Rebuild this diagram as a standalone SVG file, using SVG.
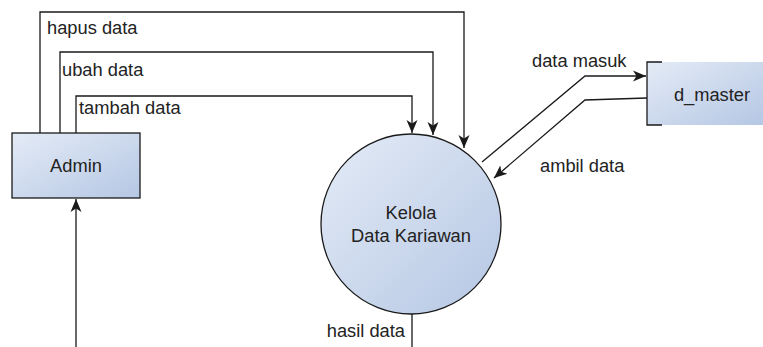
<svg xmlns="http://www.w3.org/2000/svg" width="763" height="347" viewBox="0 0 763 347">
<style>
  .lbl{font-family:"Liberation Sans",Arial,sans-serif;font-size:18.3px;fill:#222}
  .ctr{text-anchor:middle}
  .edge{fill:none;stroke:#1a1a1a;stroke-width:1.3}
  .node{stroke:#1a1a1a;stroke-width:1.3}
</style>
<defs>
  <linearGradient id="g" x1="0" y1="0" x2="1" y2="1">
    <stop offset="0" stop-color="#e4ebf6"/>
    <stop offset="1" stop-color="#b5c7e4"/>
  </linearGradient>
  <marker id="arr" markerUnits="userSpaceOnUse" markerWidth="14" markerHeight="14" viewBox="0 0 14 14" refX="13" refY="7" orient="auto">
    <path d="M0,1.5 L13,7 L0,12.5 L3.5,7 Z" fill="#1a1a1a"/>
  </marker>
</defs>
<rect width="763" height="347" fill="#fff"/>
<g id="admin">
  <rect class="node" x="12" y="133" width="128" height="65" fill="url(#g)"/>
  <text class="lbl ctr" x="76" y="172">Admin</text>
</g>
<g id="kelola">
  <circle class="node" cx="411" cy="224" r="90" fill="url(#g)"/>
  <text class="lbl ctr" x="411" y="219">Kelola</text>
  <text class="lbl ctr" x="411" y="242">Data Kariawan</text>
</g>
<g id="d_master">
  <rect x="647" y="62" width="116" height="63" fill="url(#g)"/>
  <path class="edge" d="M662,62 H647 V125 H662"/>
  <text class="lbl ctr" x="712" y="101">d_master</text>
</g>
<g id="connectors">
  <path class="edge" d="M40,133 V12 H464 V148" marker-end="url(#arr)"/>
  <path class="edge" d="M60,133 V52 H433 V135" marker-end="url(#arr)"/>
  <path class="edge" d="M76,133 V96 H412 V133" marker-end="url(#arr)"/>
  <path class="edge" d="M482,162 L585,76 H646" marker-end="url(#arr)"/>
  <path class="edge" d="M647,98 L585,100 L494,178" marker-end="url(#arr)"/>
  <path class="edge" d="M76,347 V199" marker-end="url(#arr)"/>
  <path class="edge" d="M412,314 V347"/>
  <text class="lbl" x="47" y="34">hapus data</text>
  <text class="lbl" x="62" y="76">ubah data</text>
  <text class="lbl" x="79" y="114">tambah data</text>
  <text class="lbl" x="532" y="67">data masuk</text>
  <text class="lbl" x="540" y="172">ambil data</text>
  <text class="lbl" x="405" y="337" text-anchor="end">hasil data</text>
</g>
</svg>
